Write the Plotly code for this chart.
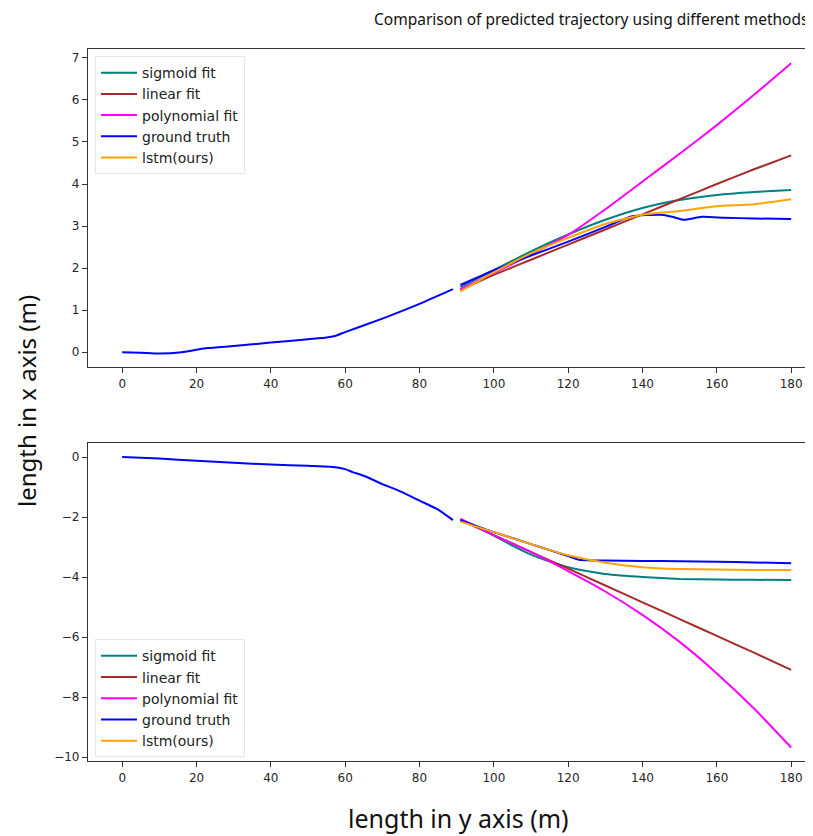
import plotly.graph_objects as go

# ---------------- data ----------------
# top panel (x axis displacement)
gt_top_x1 = [0, 5, 10, 16, 20, 23, 30, 40, 50, 55, 57, 60, 70, 80, 89]
gt_top_y1 = [0, -0.01, -0.03, 0.0, 0.06, 0.1, 0.15, 0.23, 0.31, 0.35, 0.38, 0.48, 0.8, 1.15, 1.5]
gt_top_x2 = [91, 100, 110, 120, 130, 137, 145, 148, 151, 156, 162, 170, 180]
gt_top_y2 = [1.6, 1.95, 2.3, 2.63, 2.98, 3.23, 3.27, 3.22, 3.15, 3.22, 3.2, 3.18, 3.17]

pred_x = [91, 100, 110, 120, 130, 140, 150, 160, 170, 180]
sig_top = [1.55, 1.95, 2.4, 2.8, 3.15, 3.43, 3.62, 3.74, 3.81, 3.86]
lin_top = [1.48, 1.84, 2.2, 2.56, 2.92, 3.28, 3.64, 4.0, 4.35, 4.68]
poly_top = [1.5, 1.88, 2.33, 2.79, 3.4, 4.06, 4.72, 5.4, 6.12, 6.87]
lstm_top = [1.45, 1.9, 2.35, 2.72, 3.05, 3.27, 3.36, 3.47, 3.52, 3.64]

# bottom panel (y axis displacement)
gt_bot_x1 = [0, 10, 20, 30, 40, 50, 56, 60, 62, 65, 70, 75, 80, 85, 89]
gt_bot_y1 = [0, -0.05, -0.12, -0.19, -0.25, -0.29, -0.32, -0.4, -0.5, -0.62, -0.9, -1.15, -1.45, -1.75, -2.1]
gt_bot_x2 = [91, 100, 110, 115, 120, 123, 130, 140, 150, 160, 170, 180]
gt_bot_y2 = [-2.1, -2.5, -2.9, -3.1, -3.3, -3.42, -3.45, -3.46, -3.47, -3.49, -3.51, -3.54]

sig_bot_x = [91, 95, 100, 105, 110, 115, 120, 125, 130, 140, 150, 160, 170, 180]
sig_bot = [-2.1, -2.3, -2.62, -2.95, -3.25, -3.48, -3.67, -3.8, -3.9, -4.0, -4.06, -4.08, -4.09, -4.1]
lin_bot = [-2.1, -2.6, -3.16, -3.72, -4.28, -4.84, -5.4, -5.96, -6.52, -7.09]
poly_bot = [-2.05, -2.6, -3.17, -3.8, -4.48, -5.26, -6.16, -7.21, -8.38, -9.68]
lstm_bot = [-2.15, -2.5, -2.9, -3.27, -3.52, -3.67, -3.73, -3.75, -3.76, -3.76]

names = ["sigmoid fit", "linear fit", "polynomial fit", "ground truth", "lstm(ours)"]
colors = ["#008080", "#a52a2a", "#ff00ff", "#0000ff", "#ffa500"]

# ---------------- figure ----------------
fig = go.Figure()
LW = 2


def add(x, y, i, xa, ya, leg, show=True):
    fig.add_trace(go.Scatter(x=x, y=y, mode="lines", name=names[i],
                             line=dict(color=colors[i], width=LW, shape="spline", smoothing=0.5),
                             xaxis=xa, yaxis=ya, legend=leg, showlegend=show,
                             connectgaps=False))


# top
add(pred_x, sig_top, 0, "x", "y", "legend")
add(pred_x, lin_top, 1, "x", "y", "legend")
add(pred_x, poly_top, 2, "x", "y", "legend")
add(gt_top_x1 + [None] + gt_top_x2, gt_top_y1 + [None] + gt_top_y2, 3, "x", "y", "legend")
add(pred_x, lstm_top, 4, "x", "y", "legend")
# bottom
add(sig_bot_x, sig_bot, 0, "x2", "y2", "legend2")
add(pred_x, lin_bot, 1, "x2", "y2", "legend2")
add(pred_x, poly_bot, 2, "x2", "y2", "legend2")
add(gt_bot_x1 + [None] + gt_bot_x2, gt_bot_y1 + [None] + gt_bot_y2, 3, "x2", "y2", "legend2")
add(pred_x, lstm_bot, 4, "x2", "y2", "legend2")

# page body has an 8px margin, so the figure is sized to fit the visible window
W, H = 805, 828
ml, mr, mt, mb = 80, 4, 41, 75
ph = H - mt - mb
axh = 318
top_dom = [(ph - axh) / ph, 1]
bot_dom = [0, axh / ph]

tickfont = dict(family="DejaVu Sans", size=12, color="#262626")
axcommon = dict(showgrid=False, zeroline=False, showline=True, linecolor="#333333", linewidth=1.2,
                mirror=True, ticks="outside", ticklen=5, tickcolor="#333333", tickfont=tickfont,
                automargin=False)

legstyle = dict(font=dict(family="DejaVu Sans", size=14, color="#222222"),
                bgcolor="rgba(255,255,255,0.85)", bordercolor="#e6e6e6", borderwidth=1,
                xanchor="left", yanchor="top", tracegroupgap=0, itemwidth=36)

fig.update_layout(
    width=W, height=H,
    margin=dict(l=ml, r=mr, t=mt, b=mb, autoexpand=False),
    paper_bgcolor="white", plot_bgcolor="white",
    xaxis=dict(domain=[0, 1], range=[-9.2, 184.8], tickvals=[0, 20, 40, 60, 80, 100, 120, 140, 160, 180],
               anchor="y", **axcommon),
    yaxis=dict(domain=top_dom, range=[-0.35, 7.21], tickvals=[0, 1, 2, 3, 4, 5, 6, 7], anchor="x", **axcommon),
    xaxis2=dict(domain=[0, 1], range=[-9.2, 184.8], tickvals=[0, 20, 40, 60, 80, 100, 120, 140, 160, 180],
                anchor="y2", **axcommon),
    yaxis2=dict(domain=bot_dom, range=[-10.13, 0.47], tickvals=[0, -2, -4, -6, -8, -10],
                ticktext=["0", "\u22122", "\u22124", "\u22126", "\u22128", "\u221210"], anchor="x2", **axcommon),
    legend=dict(x=0.0097, y=0.99, **legstyle),
    legend2=dict(x=0.0097, y=0.171, **legstyle),
    annotations=[
        dict(text="Comparison of predicted trajectory using different methods", xref="paper", yref="paper",
             x=1.0, y=1.0, xanchor="right", yanchor="middle", xshift=1, yshift=30, showarrow=False,
             font=dict(family="Noto Sans", size=15.5, color="#111111")),
        dict(text="length in x axis (m)", xref="paper", yref="paper", x=0, y=0.5, xshift=-62, yshift=4,
             xanchor="center", yanchor="middle", textangle=-90, showarrow=False,
             font=dict(family="Noto Sans", size=24, color="#111111")),
        dict(text="length in y axis (m)", xref="paper", yref="paper", x=0.5, y=0, xshift=10, yshift=-57,
             xanchor="center", yanchor="middle", showarrow=False,
             font=dict(family="Noto Sans", size=25, color="#111111")),
    ],
)

fig.write_html("out.html")
